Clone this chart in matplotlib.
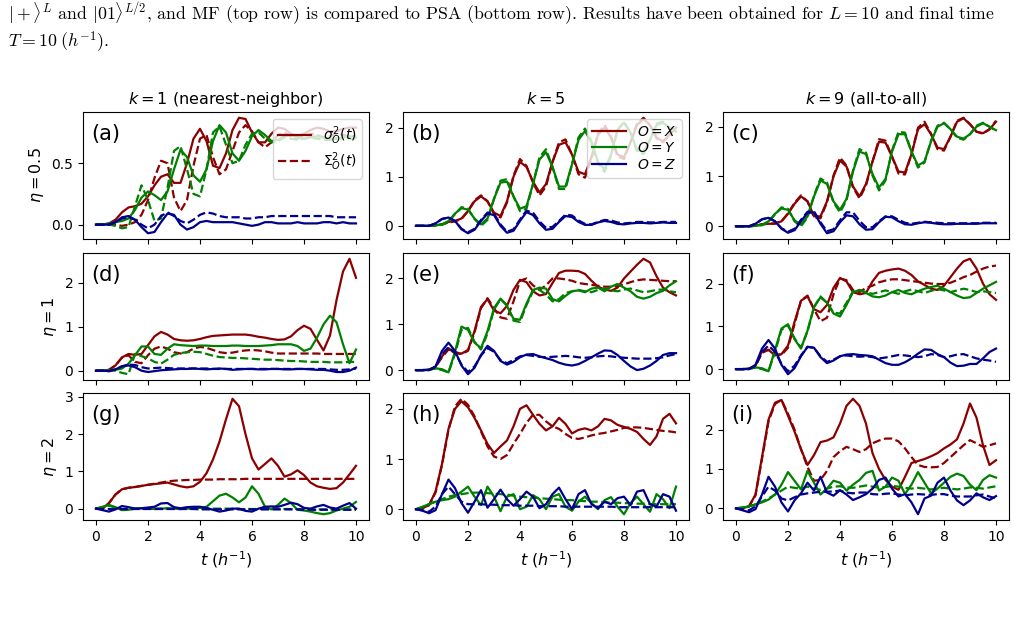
import numpy as np
import matplotlib
matplotlib.use("Agg")
import matplotlib.pyplot as plt
from matplotlib.lines import Line2D

t = np.linspace(0, 10, 41)

# ---- (a) k=1, eta=0.5
a_x_mf = [0, 0, 0.01, 0.04, 0.1, 0.14, 0.15, 0.17, 0.23, 0.32,
          0.39, 0.41, 0.34, 0.34, 0.5, 0.7, 0.78, 0.68, 0.48, 0.46,
          0.58, 0.77, 0.87, 0.86, 0.75, 0.67, 0.67, 0.74, 0.79, 0.78,
          0.74, 0.72, 0.74, 0.77, 0.79, 0.78, 0.76, 0.76, 0.78, 0.79, 0.79]
a_x_psa = [0, 0, 0, 0, -0.01, 0.0, 0.02, 0.08, 0.2, 0.38,
           0.52, 0.5, 0.22, 0.11, 0.2, 0.48, 0.7, 0.73, 0.55, 0.41,
           0.45, 0.6, 0.75, 0.81, 0.76, 0.67, 0.63, 0.67, 0.73, 0.75,
           0.72, 0.7, 0.72, 0.74, 0.73, 0.71, 0.72, 0.74, 0.73, 0.72, 0.72]
a_y_mf = [0, 0, 0.01, 0.02, 0.03, 0.05, 0.12, 0.22, 0.27, 0.24,
          0.2, 0.27, 0.45, 0.61, 0.55, 0.4, 0.35, 0.45, 0.68, 0.81,
          0.75, 0.58, 0.52, 0.6, 0.72, 0.77, 0.73, 0.68, 0.69, 0.72,
          0.73, 0.71, 0.7, 0.71, 0.72, 0.71, 0.7, 0.7, 0.71, 0.72, 0.71]
a_y_psa = [0, 0, 0, -0.01, -0.03, -0.02, 0.15, 0.32, 0.2, 0.03,
           0.05, 0.3, 0.6, 0.64, 0.45, 0.25, 0.23, 0.45, 0.75, 0.8,
           0.65, 0.5, 0.52, 0.65, 0.74, 0.75, 0.7, 0.67, 0.68, 0.71,
           0.7, 0.69, 0.7, 0.71, 0.7, 0.69, 0.69, 0.7, 0.7, 0.7, 0.7]
a_z_mf = [0, 0, 0, 0.02, 0.06, 0.07, 0.04, -0.02, -0.07, -0.06,
          0.02, 0.09, 0.08, 0.0, -0.04, -0.02, 0.02, 0.03, 0.02, 0.02,
          0.02, 0.02, 0.01, 0.0, -0.01, 0.0, 0.02, 0.02, 0.01, 0.01,
          0.01, 0.02, 0.01, 0.01, 0.01, 0.02, 0.02, 0.01, 0.02, 0.01, 0.01]
a_z_psa = [0, 0, 0, 0.02, 0.05, 0.06, 0.04, 0.0, -0.03, 0.0,
           0.07, 0.1, 0.07, 0.03, 0.01, 0.04, 0.08, 0.1, 0.09, 0.07,
           0.06, 0.06, 0.06, 0.05, 0.05, 0.06, 0.06, 0.07, 0.07, 0.07,
           0.07, 0.07, 0.07, 0.07, 0.07, 0.07, 0.07, 0.06, 0.06, 0.06, 0.06]

# ---- (b) k=5, eta=0.5
b_x_mf = [0, 0, 0, 0.01, 0.03, 0.08, 0.1, 0.15, 0.3, 0.5,
          0.6, 0.5, 0.27, 0.2, 0.5, 1.0, 1.3, 1.2, 0.9, 0.68,
          0.85, 1.3, 1.65, 1.7, 1.45, 1.1, 1.05, 1.4, 1.85, 2.0,
          1.8, 1.45, 1.4, 1.7, 2.05, 2.18, 2.05, 1.8, 1.72, 1.85, 2.0]
b_x_psa = [0, 0, 0, 0.01, 0.03, 0.07, 0.09, 0.14, 0.3, 0.52,
           0.62, 0.5, 0.24, 0.17, 0.48, 1.02, 1.36, 1.22, 0.88, 0.62,
           0.8, 1.3, 1.7, 1.76, 1.45, 1.05, 0.98, 1.38, 1.88, 2.05,
           1.82, 1.42, 1.36, 1.7, 2.08, 2.2, 2.05, 1.78, 1.7, 1.85, 2.02]
b_y_mf = [0, 0, 0, 0.01, 0.03, 0.1, 0.25, 0.36, 0.33, 0.15,
          0.03, 0.15, 0.55, 0.88, 0.9, 0.6, 0.35, 0.4, 0.85, 1.35,
          1.5, 1.2, 0.8, 0.8, 1.25, 1.75, 1.93, 1.7, 1.3, 1.15,
          1.45, 1.95, 2.1, 1.9, 1.55, 1.5, 1.75, 2.05, 2.1, 2.0, 1.92]
b_y_psa = [0, 0, 0, 0.01, 0.02, 0.08, 0.24, 0.38, 0.35, 0.14,
           0.0, 0.12, 0.55, 0.92, 0.95, 0.6, 0.3, 0.35, 0.85, 1.4,
           1.56, 1.2, 0.75, 0.75, 1.25, 1.8, 1.98, 1.72, 1.28, 1.1,
           1.42, 1.95, 2.12, 1.9, 1.52, 1.46, 1.75, 2.08, 2.12, 2.0, 1.9]
b_z_mf = [0, 0, 0, 0.05, 0.14, 0.17, 0.1, -0.07, -0.15, -0.08,
          0.1, 0.25, 0.22, 0.0, -0.14, -0.1, 0.1, 0.28, 0.22, 0.05,
          -0.08, -0.06, 0.08, 0.2, 0.18, 0.08, 0.02, 0.02, 0.07, 0.1,
          0.08, 0.04, 0.03, 0.05, 0.06, 0.06, 0.05, 0.06, 0.07, 0.06, 0.06]
b_z_psa = [0, 0, 0, 0.05, 0.14, 0.17, 0.1, -0.06, -0.13, -0.06,
           0.12, 0.27, 0.25, 0.03, -0.12, -0.07, 0.13, 0.31, 0.27, 0.09,
           -0.04, -0.02, 0.1, 0.23, 0.21, 0.11, 0.04, 0.03, 0.08, 0.12,
           0.11, 0.07, 0.05, 0.06, 0.08, 0.08, 0.07, 0.07, 0.08, 0.08, 0.08]

# ---- (c) k=9, eta=0.5
c_x_mf = [0, 0, 0, 0.01, 0.04, 0.05, 0.05, 0.1, 0.25, 0.45,
          0.6, 0.5, 0.2, 0.2, 0.5, 1.0, 1.32, 1.2, 0.8, 0.6,
          0.85, 1.3, 1.7, 1.68, 1.4, 1.1, 1.08, 1.45, 1.95, 2.05,
          1.85, 1.58, 1.55, 1.8, 2.1, 2.17, 2.05, 1.9, 1.87, 1.95, 2.1]
c_x_psa = [0, 0, 0, 0.01, 0.04, 0.05, 0.06, 0.1, 0.26, 0.47,
           0.62, 0.5, 0.18, 0.16, 0.48, 1.02, 1.38, 1.22, 0.78, 0.56,
           0.82, 1.3, 1.75, 1.72, 1.4, 1.06, 1.04, 1.45, 1.98, 2.1,
           1.86, 1.55, 1.52, 1.8, 2.12, 2.18, 2.05, 1.9, 1.86, 1.95, 2.12]
c_y_mf = [0, 0, 0, 0.01, 0.03, 0.1, 0.25, 0.36, 0.33, 0.12,
          0.03, 0.2, 0.6, 0.92, 0.85, 0.5, 0.33, 0.55, 1.1, 1.5,
          1.45, 1.05, 0.78, 0.95, 1.5, 1.85, 1.85, 1.5, 1.22, 1.3,
          1.7, 2.0, 2.07, 1.95, 1.8, 1.76, 1.85, 2.0, 2.07, 2.0, 1.93]
c_y_psa = [0, 0, 0, 0.01, 0.02, 0.08, 0.24, 0.38, 0.35, 0.1,
           0.0, 0.18, 0.62, 0.96, 0.88, 0.48, 0.28, 0.52, 1.12, 1.55,
           1.48, 1.02, 0.72, 0.92, 1.52, 1.9, 1.88, 1.5, 1.18, 1.28,
           1.72, 2.02, 2.08, 1.95, 1.78, 1.74, 1.85, 2.02, 2.08, 2.0, 1.92]
c_z_mf = [0, 0, 0, 0.05, 0.14, 0.17, 0.1, -0.05, -0.13, -0.08,
          0.1, 0.27, 0.28, 0.05, -0.14, -0.1, 0.08, 0.22, 0.2, 0.04,
          -0.07, -0.06, 0.08, 0.19, 0.18, 0.1, 0.04, 0.03, 0.06, 0.08,
          0.07, 0.05, 0.04, 0.04, 0.05, 0.05, 0.05, 0.05, 0.06, 0.06, 0.06]
c_z_psa = [0, 0, 0, 0.05, 0.14, 0.17, 0.1, -0.04, -0.11, -0.05,
           0.13, 0.29, 0.3, 0.08, -0.1, -0.06, 0.12, 0.28, 0.28, 0.11,
           -0.02, -0.02, 0.1, 0.2, 0.2, 0.13, 0.07, 0.05, 0.07, 0.09,
           0.08, 0.07, 0.06, 0.06, 0.06, 0.06, 0.06, 0.06, 0.07, 0.07, 0.07]

# ---- (d) k=1, eta=1
d_x_mf = [0, 0, 0.02, 0.12, 0.3, 0.38, 0.36, 0.38, 0.58, 0.78,
          0.88, 0.82, 0.72, 0.69, 0.68, 0.69, 0.72, 0.76, 0.79, 0.8,
          0.81, 0.82, 0.82, 0.82, 0.8, 0.77, 0.75, 0.72, 0.7, 0.71,
          0.78, 0.92, 1.02, 0.95, 0.7, 0.46, 0.8, 1.6, 2.25, 2.54, 2.11]
d_x_psa = [0, 0, 0.02, 0.12, 0.3, 0.35, 0.2, 0.17, 0.35, 0.5,
           0.55, 0.5, 0.42, 0.39, 0.42, 0.5, 0.54, 0.52, 0.47, 0.42,
           0.4, 0.41, 0.44, 0.46, 0.47, 0.46, 0.44, 0.41, 0.39, 0.39,
           0.39, 0.39, 0.39, 0.39, 0.39, 0.38, 0.38, 0.38, 0.38, 0.38, 0.38]
d_y_mf = [0, 0, 0.01, 0.02, 0.05, 0.16, 0.35, 0.55, 0.55, 0.38,
          0.36, 0.5, 0.6, 0.58, 0.57, 0.56, 0.57, 0.57, 0.56, 0.56,
          0.56, 0.57, 0.57, 0.56, 0.56, 0.56, 0.57, 0.58, 0.6, 0.6,
          0.6, 0.56, 0.45, 0.5, 0.75, 1.05, 1.25, 1.1, 0.6, 0.17, 0.48]
d_y_psa = [0, 0, 0.01, 0.0, -0.05, -0.08, 0.38, 0.33, 0.28, 0.2,
           0.16, 0.25, 0.36, 0.4, 0.42, 0.43, 0.42, 0.38, 0.34, 0.31,
           0.3, 0.29, 0.29, 0.28, 0.27, 0.26, 0.25, 0.25, 0.24, 0.23,
           0.22, 0.22, 0.21, 0.2, 0.2, 0.2, 0.19, 0.19, 0.19, 0.2, 0.2]
d_z_mf = [0, 0, -0.01, 0.03, 0.1, 0.12, 0.08, 0.0, -0.03, -0.01,
          0.01, 0.02, 0.03, 0.04, 0.04, 0.05, 0.04, 0.03, 0.04, 0.05,
          0.04, 0.02, 0.03, 0.04, 0.04, 0.03, 0.03, 0.04, 0.04, 0.03,
          0.03, 0.04, 0.04, 0.03, 0.02, 0.02, 0.0, -0.03, -0.03, 0.0, 0.07]
d_z_psa = [0, 0, -0.01, 0.03, 0.1, 0.14, 0.13, 0.08, 0.05, 0.06,
           0.07, 0.06, 0.05, 0.05, 0.05, 0.05, 0.05, 0.05, 0.04, 0.04,
           0.04, 0.04, 0.04, 0.04, 0.04, 0.04, 0.04, 0.04, 0.04, 0.04,
           0.04, 0.04, 0.04, 0.04, 0.04, 0.04, 0.03, 0.02, 0.02, 0.03, 0.05]

# ---- (e) k=5, eta=1
e_x_mf = [0, 0, 0.01, 0.07, 0.3, 0.48, 0.36, 0.36, 0.44, 0.85,
          1.38, 1.55, 1.3, 1.24, 1.4, 1.75, 1.97, 1.92, 1.72, 1.63,
          1.66, 1.9, 2.12, 2.17, 2.17, 2.16, 2.1, 1.95, 1.82, 1.76,
          1.73, 1.8, 2.0, 2.15, 2.3, 2.43, 2.35, 2.05, 1.8, 1.7, 1.63]
e_x_psa = [0, 0, 0.01, 0.07, 0.28, 0.45, 0.4, 0.35, 0.42, 0.82,
           1.35, 1.57, 1.35, 1.15, 1.12, 1.5, 1.95, 2.0, 1.85, 1.75,
           1.85, 2.0, 2.0, 1.98, 1.95, 1.9, 1.88, 1.86, 1.84, 1.82,
           1.82, 1.83, 1.87, 1.92, 1.96, 1.98, 1.97, 1.96, 1.95, 1.94, 1.94]
e_y_mf = [0, 0, 0.01, 0.04, 0.02, -0.05, 0.4, 0.95, 0.88, 0.6,
          0.48, 0.85, 1.35, 1.56, 1.4, 1.12, 1.1, 1.45, 1.75, 1.8,
          1.78, 1.55, 1.5, 1.62, 1.72, 1.74, 1.7, 1.78, 1.8, 1.72,
          1.82, 1.88, 1.8, 1.72, 1.6, 1.56, 1.6, 1.68, 1.73, 1.85, 1.94]
e_y_psa = [0, 0, 0.01, 0.03, 0.0, -0.05, 0.35, 0.88, 0.92, 0.62,
           0.45, 0.8, 1.32, 1.55, 1.42, 1.08, 1.05, 1.42, 1.72, 1.75,
           1.65, 1.5, 1.55, 1.68, 1.72, 1.75, 1.72, 1.7, 1.75, 1.78,
           1.74, 1.72, 1.76, 1.78, 1.74, 1.7, 1.72, 1.75, 1.76, 1.72, 1.7]
e_z_mf = [0, 0, 0.0, 0.08, 0.42, 0.6, 0.42, 0.1, -0.09, 0.05,
          0.33, 0.53, 0.42, 0.2, 0.12, 0.18, 0.28, 0.34, 0.35, 0.3,
          0.26, 0.22, 0.16, 0.12, 0.1, 0.13, 0.2, 0.28, 0.36, 0.43,
          0.42, 0.33, 0.2, 0.08, 0.0, 0.03, 0.1, 0.2, 0.33, 0.37, 0.37]
e_z_psa = [0, 0, 0.0, 0.07, 0.35, 0.5, 0.38, 0.12, -0.04, 0.08,
           0.32, 0.48, 0.4, 0.22, 0.15, 0.22, 0.3, 0.33, 0.31, 0.29,
           0.28, 0.29, 0.3, 0.31, 0.3, 0.28, 0.27, 0.28, 0.3, 0.31,
           0.3, 0.28, 0.27, 0.26, 0.25, 0.25, 0.25, 0.26, 0.28, 0.32, 0.35]

# ---- (f) k=9, eta=1
f_x_mf = [0, 0, 0.01, 0.08, 0.42, 0.45, 0.32, 0.35, 0.55, 1.1,
          1.6, 1.7, 1.4, 1.33, 1.5, 1.9, 2.13, 2.05, 1.8, 1.75,
          1.78, 2.05, 2.25, 2.3, 2.33, 2.35, 2.3, 2.2, 2.05, 1.97,
          1.88, 1.85, 1.95, 2.15, 2.35, 2.52, 2.58, 2.35, 2.0, 1.75, 1.62]
f_x_psa = [0, 0, 0.01, 0.07, 0.38, 0.45, 0.35, 0.33, 0.5, 1.05,
           1.6, 1.72, 1.4, 1.12, 1.2, 1.75, 2.12, 2.08, 1.85, 1.8,
           1.9, 1.95, 2.03, 2.07, 2.1, 2.1, 2.08, 2.06, 2.04, 2.02,
           2.0, 1.99, 1.99, 2.02, 2.08, 2.15, 2.2, 2.28, 2.35, 2.4, 2.42]
f_y_mf = [0, 0, 0.01, 0.04, 0.02, -0.05, 0.45, 0.95, 1.05, 0.7,
          0.48, 0.9, 1.45, 1.68, 1.55, 1.3, 1.23, 1.5, 1.8, 1.85,
          1.78, 1.7, 1.68, 1.72, 1.8, 1.85, 1.78, 1.75, 1.82, 1.88,
          1.92, 1.95, 1.88, 1.8, 1.72, 1.66, 1.68, 1.78, 1.88, 1.96, 2.04]
f_y_psa = [0, 0, 0.01, 0.03, 0.0, -0.05, 0.4, 0.92, 1.02, 0.72,
           0.5, 0.88, 1.45, 1.7, 1.55, 1.32, 1.3, 1.55, 1.82, 1.85,
           1.8, 1.76, 1.8, 1.84, 1.8, 1.76, 1.82, 1.86, 1.82, 1.78,
           1.83, 1.87, 1.84, 1.8, 1.84, 1.88, 1.85, 1.8, 1.82, 1.8, 1.78]
f_z_mf = [0, 0, 0.0, 0.1, 0.48, 0.68, 0.48, 0.1, -0.12, 0.02,
          0.3, 0.52, 0.5, 0.28, 0.14, 0.2, 0.3, 0.34, 0.35, 0.33,
          0.32, 0.3, 0.22, 0.14, 0.1, 0.1, 0.16, 0.25, 0.36, 0.46,
          0.45, 0.35, 0.28, 0.15, 0.07, 0.08, 0.12, 0.12, 0.25, 0.4, 0.48]
f_z_psa = [0, 0, 0.0, 0.08, 0.4, 0.55, 0.4, 0.12, -0.05, 0.08,
           0.32, 0.52, 0.5, 0.3, 0.17, 0.22, 0.3, 0.32, 0.3, 0.29,
           0.3, 0.28, 0.25, 0.27, 0.3, 0.33, 0.32, 0.3, 0.28, 0.3,
           0.35, 0.33, 0.28, 0.3, 0.34, 0.35, 0.3, 0.25, 0.22, 0.2, 0.17]

# ---- (g) k=1, eta=2
g_x_mf = [0, 0.0, 0.15, 0.38, 0.52, 0.56, 0.58, 0.61, 0.64, 0.66,
          0.68, 0.7, 0.65, 0.6, 0.57, 0.6, 0.72, 0.95, 1.32, 1.8,
          2.4, 2.95, 2.75, 2.0, 1.35, 1.05, 1.2, 1.35, 1.15, 0.86,
          0.92, 1.03, 0.9, 0.7, 0.6, 0.56, 0.53, 0.55, 0.7, 0.92, 1.15]
g_x_psa = [0, 0.0, 0.15, 0.38, 0.52, 0.56, 0.58, 0.61, 0.64, 0.67,
           0.7, 0.73, 0.75, 0.76, 0.77, 0.77, 0.78, 0.78, 0.78, 0.79,
           0.79, 0.79, 0.79, 0.8, 0.8, 0.8, 0.8, 0.8, 0.8, 0.8,
           0.8, 0.8, 0.8, 0.8, 0.8, 0.8, 0.8, 0.8, 0.8, 0.8, 0.8]
g_y_mf = [0, 0.05, 0.1, 0.04, -0.04, -0.03, 0.0, 0.01, 0.0, -0.01,
          0.0, 0.01, 0.0, -0.01, 0.0, 0.01, 0.02, 0.05, 0.2, 0.35,
          0.4, 0.3, 0.17, 0.3, 0.6, 0.4, 0.05, -0.02, 0.1, 0.27,
          0.15, -0.03, -0.05, -0.08, -0.12, -0.15, -0.12, -0.05, 0.0, 0.05, 0.18]
g_y_psa = [0, 0.04, 0.08, 0.03, -0.03, -0.02, 0.0, 0.0, 0.0, 0.0,
           0.0, 0.0, 0.0, 0.0, 0.0, 0.0, 0.0, 0.0, 0.0, 0.0,
           0.0, 0.0, -0.01, -0.01, -0.01, -0.01, -0.01, -0.01, -0.01, -0.01,
           -0.01, -0.01, -0.02, -0.02, -0.02, -0.02, -0.02, -0.02, -0.02, -0.02, -0.02]
g_z_mf = [0, -0.04, -0.08, -0.02, 0.07, 0.04, 0.0, 0.01, 0.03, 0.05,
          0.14, 0.15, 0.04, 0.01, 0.04, 0.05, 0.05, 0.02, -0.03, -0.08,
          -0.05, 0.0, 0.0, -0.06, -0.08, 0.0, 0.05, 0.06, 0.05, 0.1,
          0.16, 0.12, 0.02, 0.0, 0.06, 0.1, 0.03, 0.0, 0.08, 0.15, 0.0]
g_z_psa = [0, -0.01, -0.01, -0.01, -0.01, -0.01, -0.01, -0.01, -0.01, -0.01,
           -0.01, -0.01, -0.01, -0.01, -0.01, -0.01, -0.02, -0.02, -0.02, -0.02,
           -0.02, -0.02, -0.02, -0.02, -0.02, -0.02, -0.02, -0.02, -0.02, -0.02,
           -0.02, -0.02, -0.03, -0.03, -0.03, -0.03, -0.03, -0.03, -0.03, -0.03, -0.03]

# ---- (h) k=5, eta=2
h_x_mf = [0, 0.02, 0.08, 0.35, 0.9, 1.6, 2.0, 2.15, 2.03, 1.82,
          1.57, 1.3, 1.12, 1.25, 1.37, 1.65, 2.0, 2.07, 1.88, 1.7,
          1.57, 1.65, 1.82, 1.7, 1.51, 1.58, 1.61, 1.57, 1.65, 1.8,
          1.77, 1.68, 1.64, 1.6, 1.54, 1.4, 1.28, 1.45, 1.8, 1.9, 1.71]
h_x_psa = [0, 0.02, 0.08, 0.33, 0.88, 1.58, 2.05, 2.2, 2.08, 1.85,
           1.55, 1.25, 1.05, 1.0, 1.08, 1.3, 1.5, 1.72, 1.88, 1.88,
           1.75, 1.65, 1.6, 1.5, 1.42, 1.4, 1.43, 1.47, 1.5, 1.52,
           1.55, 1.58, 1.62, 1.63, 1.63, 1.62, 1.6, 1.58, 1.56, 1.55, 1.53]
h_y_mf = [0, 0.05, 0.1, 0.15, 0.18, 0.2, 0.25, 0.35, 0.45, 0.25,
          0.08, 0.45, 0.25, -0.04, 0.25, 0.3, 0.0, 0.05, 0.28, 0.2,
          0.0, 0.25, 0.3, 0.05, -0.03, 0.15, 0.25, 0.12, 0.0, 0.18,
          0.24, 0.05, -0.1, 0.12, 0.25, 0.1, -0.05, 0.3, 0.2, 0.02, 0.45]
h_y_psa = [0, 0.04, 0.1, 0.15, 0.2, 0.25, 0.28, 0.3, 0.32, 0.33,
           0.33, 0.32, 0.31, 0.3, 0.29, 0.27, 0.25, 0.24, 0.23, 0.22,
           0.21, 0.2, 0.19, 0.18, 0.18, 0.17, 0.16, 0.15, 0.15, 0.14,
           0.13, 0.13, 0.12, 0.12, 0.11, 0.11, 0.1, 0.1, 0.1, 0.1, 0.1]
h_z_mf = [0, -0.03, -0.08, -0.02, 0.3, 0.59, 0.42, 0.12, -0.07, 0.15,
          0.38, 0.03, 0.2, 0.39, 0.2, 0.07, 0.2, 0.35, 0.25, 0.02,
          0.1, 0.3, 0.43, 0.2, 0.0, 0.3, 0.38, 0.1, 0.02, 0.15,
          0.1, 0.22, 0.25, 0.08, 0.35, 0.38, 0.1, 0.05, 0.3, 0.25, -0.03]
h_z_psa = [0, -0.02, -0.05, 0.05, 0.3, 0.45, 0.3, 0.15, 0.1, 0.1,
           0.1, 0.09, 0.09, 0.08, 0.08, 0.08, 0.07, 0.07, 0.07, 0.06,
           0.06, 0.06, 0.06, 0.05, 0.05, 0.05, 0.05, 0.05, 0.05, 0.05,
           0.05, 0.04, 0.04, 0.04, 0.04, 0.04, 0.04, 0.04, 0.04, 0.04, 0.04]

# ---- (i) k=9, eta=2
i_x_mf = [0, 0.0, 0.05, 0.35, 1.3, 2.25, 2.68, 2.75, 2.35, 1.95,
          1.5, 1.1, 1.35, 1.68, 1.72, 1.8, 2.15, 2.6, 2.78, 2.6,
          2.15, 1.4, 1.0, 0.72, 0.55, 0.47, 0.8, 1.15, 1.2, 1.25,
          1.32, 1.4, 1.52, 1.62, 1.75, 2.15, 2.66, 2.3, 1.6, 1.1, 1.22]
i_x_psa = [0, 0.0, 0.05, 0.33, 1.25, 2.2, 2.65, 2.75, 2.4, 2.0,
           1.5, 1.05, 0.7, 0.72, 0.95, 1.3, 1.45, 1.56, 1.5, 1.43,
           1.5, 1.65, 1.72, 1.77, 1.77, 1.7, 1.52, 1.3, 1.1, 1.05,
           1.04, 1.05, 1.15, 1.3, 1.45, 1.6, 1.73, 1.65, 1.56, 1.6, 1.65]
i_y_mf = [0, 0.02, 0.05, 0.1, 0.15, 0.22, 0.35, 0.6, 0.92, 0.7,
          0.48, 0.95, 0.65, 0.35, 0.5, 0.7, 0.65, 0.45, 0.6, 0.72,
          0.9, 0.95, 0.45, 0.55, 0.78, 0.7, 0.36, 0.6, 0.92, 0.65,
          0.38, 0.5, 0.65, 0.8, 0.88, 0.82, 0.6, 0.46, 0.72, 0.84, 0.78]
i_y_psa = [0, 0.02, 0.05, 0.1, 0.17, 0.25, 0.35, 0.45, 0.55, 0.52,
           0.5, 0.55, 0.5, 0.47, 0.5, 0.55, 0.56, 0.53, 0.52, 0.55,
           0.58, 0.55, 0.52, 0.54, 0.57, 0.55, 0.52, 0.5, 0.52, 0.5,
           0.48, 0.5, 0.52, 0.5, 0.48, 0.5, 0.53, 0.52, 0.5, 0.53, 0.56]
i_z_mf = [0, -0.05, -0.1, -0.02, 0.35, 0.8, 0.55, 0.15, -0.08, 0.2,
          0.38, 0.65, 0.45, 0.8, 0.4, 0.32, 0.46, 0.35, 0.21, 0.28,
          0.36, 0.5, 0.72, 0.78, 0.5, 0.3, 0.36, 0.15, -0.15, 0.25,
          0.32, 0.65, 0.78, 0.45, 0.2, 0.08, 0.2, 0.38, 0.28, 0.21, 0.31]
i_z_psa = [0, -0.03, -0.05, 0.05, 0.3, 0.55, 0.45, 0.25, 0.2, 0.28,
           0.35, 0.38, 0.4, 0.42, 0.42, 0.43, 0.45, 0.4, 0.38, 0.4,
           0.4, 0.36, 0.35, 0.37, 0.38, 0.35, 0.33, 0.35, 0.36, 0.35,
           0.34, 0.36, 0.36, 0.32, 0.3, 0.3, 0.3, 0.33, 0.35, 0.3, 0.25]

col_titles = ["$k = 1$ (nearest-neighbor)", "$k = 5$", "$k = 9$ (all-to-all)"]
row_labels = [r"$\eta = 0.5$", r"$\eta = 1$", r"$\eta = 2$"]
letters = ["(a)", "(b)", "(c)", "(d)", "(e)", "(f)", "(g)", "(h)", "(i)"]
yticks = [[0, 0.5], [0, 1, 2], [0, 1, 2],
          [0, 1, 2], [0, 1, 2], [0, 1, 2],
          [0, 1, 2, 3], [0, 1, 2], [0, 1, 2]]

panels = [
    (a_x_mf, a_x_psa, a_y_mf, a_y_psa, a_z_mf, a_z_psa),
    (b_x_mf, b_x_psa, b_y_mf, b_y_psa, b_z_mf, b_z_psa),
    (c_x_mf, c_x_psa, c_y_mf, c_y_psa, c_z_mf, c_z_psa),
    (d_x_mf, d_x_psa, d_y_mf, d_y_psa, d_z_mf, d_z_psa),
    (e_x_mf, e_x_psa, e_y_mf, e_y_psa, e_z_mf, e_z_psa),
    (f_x_mf, f_x_psa, f_y_mf, f_y_psa, f_z_mf, f_z_psa),
    (g_x_mf, g_x_psa, g_y_mf, g_y_psa, g_z_mf, g_z_psa),
    (h_x_mf, h_x_psa, h_y_mf, h_y_psa, h_z_mf, h_z_psa),
    (i_x_mf, i_x_psa, i_y_mf, i_y_psa, i_z_mf, i_z_psa),
]

colors = ["darkred", "green", "darkblue"]
W, H = 1028, 617

fig = plt.figure(figsize=(W / 100, H / 100), dpi=100)

# caption fragment above the figure (cropped page), one text with two lines
caption = (r"$|+\rangle^L$ and $|01\rangle^{L/2}$, and MF (top row) is compared to PSA "
           r"(bottom row). Results have been obtained for $L = 10$ and final time"
           "\n" r"$T = 10\;(h^{-1})$.")
fig.text(8 / W, 1 - 1 / H, caption, fontsize=12.8, family="cmr10", math_fontfamily="cm",
         va="top", ha="left", linespacing=1.15)

lefts = [83, 403, 723]
tops = [112, 253, 393]
aw, ah = 286, 127

for n, data in enumerate(panels):
    r, c = divmod(n, 3)
    ax = fig.add_axes([lefts[c] / W, 1 - (tops[r] + ah) / H, aw / W, ah / H])
    for k in range(3):
        ax.plot(t, data[2 * k], color=colors[k], lw=1.6, ls="-")
        ax.plot(t, data[2 * k + 1], color=colors[k], lw=1.6, ls="--")
    ax.set_xticks([0, 2, 4, 6, 8, 10])
    ax.set_yticks(yticks[n])
    ax.tick_params(labelsize=10)
    if r < 2:
        ax.set_xticklabels([])
    else:
        ax.set_xlabel(r"$t$ ($h^{-1}$)", fontsize=11.5)
    if r == 0:
        ax.set_title(col_titles[c], fontsize=11.5)
    if c == 0:
        ax.set_ylabel(row_labels[r], fontsize=11.5)
    ax.text(0.03, 0.83, letters[n], transform=ax.transAxes, fontsize=15, va="center")

    if n == 0:
        hs = [Line2D([], [], color="darkred", lw=1.6, ls="-"),
              Line2D([], [], color="darkred", lw=1.6, ls="--")]
        ax.legend(hs, [r"$\sigma^2_O(t)$", r"$\Sigma^2_O(t)$"], loc="upper right",
                  fontsize=10, labelspacing=0.25, handlelength=2.4)
    if n == 1:
        hs = [Line2D([], [], color=col, lw=1.6) for col in colors]
        ax.legend(hs, ["$O = X$", "$O = Y$", "$O = Z$"], loc="upper right",
                  fontsize=10, labelspacing=0.2, handlelength=2.4)

fig.savefig("out.png", dpi=100)
